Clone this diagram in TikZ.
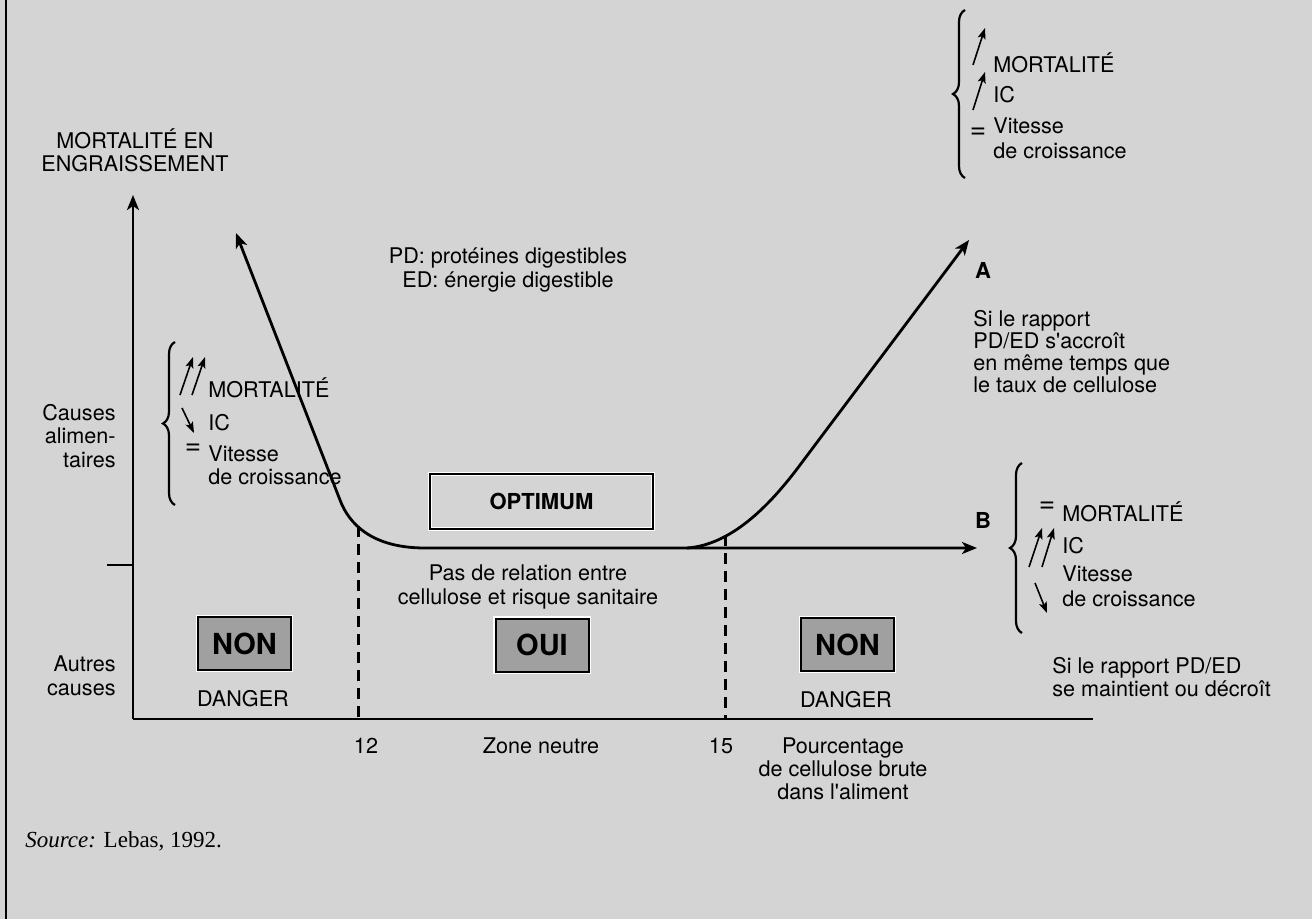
\documentclass[tikz,border=0pt]{standalone}
\usepackage{fontspec}
\setmainfont{TeX Gyre Heros}
\newfontfamily\srcfont{Liberation Serif}
\usetikzlibrary{arrows.meta,decorations.pathreplacing}
\definecolor{bg}{RGB}{212,212,212}
\definecolor{boxgray}{RGB}{160,160,160}
\begin{document}
\begin{tikzpicture}[x=0.5pt,y=-0.5pt,
  txt/.style={inner sep=0pt,font=\fontsize{10.8}{11.6}\selectfont},
  eqs/.style={inner sep=0pt,font=\fontsize{14}{14}\selectfont},
  bold/.style={inner sep=0pt,font=\fontsize{11}{12}\selectfont\bfseries},
  ax/.style={line width=1.4pt},
  bigtip/.style={-{Stealth[length=7.5pt,width=6pt,inset=2pt]}},
  bothtip/.style={{Stealth[length=7.5pt,width=6pt,inset=2pt]}-{Stealth[length=7.5pt,width=6pt,inset=2pt]}},
  smallarr/.style={line width=0.8pt,-{Stealth[length=5.5pt,width=4pt,inset=1.2pt]}},
  dashline/.style={line width=1.5pt,dash pattern=on 5.5pt off 3.5pt},
  bracedec/.style={line width=1.1pt,decorate,decoration={brace,amplitude=6pt}},
  graybox/.style={draw=black,line width=1pt,fill=boxgray,minimum width=46.5pt,minimum height=26.5pt,inner sep=0pt,font=\fontsize{14.5}{15}\selectfont\bfseries,preaction={draw=white,line width=2.4pt}},
  optbox/.style={draw=black,line width=0.9pt,minimum width=111.5pt,minimum height=27.5pt,inner sep=0pt,font=\fontsize{11}{12}\selectfont\bfseries,preaction={draw=white,line width=2.2pt}}
]
\useasboundingbox (0,0) rectangle (1312,919);
\fill[bg] (0,0) rectangle (1312,919);
% frame line
\coordinate (ft) at (6,0);
\coordinate (fb) at (6,919);
\draw[line width=1pt] (ft) -- (fb);

% axes
\coordinate (O) at (133,719);
\coordinate (ytop) at (133,195);
\coordinate (xend) at (1093,719);
\coordinate (tickL) at (107,565);
\coordinate (tickR) at (133,565);
\draw[ax,bigtip] (O) -- (ytop);
\draw[ax] (O) -- (xend);
\draw[ax] (tickL) -- (tickR);

% main curve (left branch + flat B branch)
\coordinate (leftTip) at (236,233);
\coordinate (leftBend) at (340,500);
\coordinate (flatStart) at (425,548);
\coordinate (Bend) at (977,548);
\draw[ax,bothtip] (leftTip) -- (leftBend) .. controls (349,524) and (372,548) .. (flatStart) -- (Bend);

% branch A
\coordinate (Astart) at (687,548);
\coordinate (Abend) at (800,465);
\coordinate (Atip) at (969,240);
\draw[ax,bigtip] (Astart) .. controls (730,545) and (768,508) .. (Abend) -- (Atip);

% dashed lines
\coordinate (d12t) at (358,526);
\coordinate (d12b) at (358,719);
\coordinate (d15t) at (725,535);
\coordinate (d15b) at (725,719);
\draw[dashline] (d12t) -- (d12b);
\draw[dashline] (d15t) -- (d15b);

% axis labels
\node[txt,align=center] (ylab) at (135,150) {MORTALITÉ EN\\ENGRAISSEMENT};
\node[txt,align=right,anchor=east,font=\fontsize{10.8}{11.8}\selectfont] (causesA) at (116,436) {Causes\\alimen-\\taires};
\node[txt,align=right,anchor=east,font=\fontsize{10.8}{11.8}\selectfont] (causesB) at (116,676) {Autres\\causes};
\node[txt] (l12) at (366,746) {12};
\node[txt] (lzone) at (541,746) {Zone neutre};
\node[txt] (l15) at (721,746) {15};
\node[txt,align=center] (lpct) at (843,769) {Pourcentage\\de cellulose brute\\dans l\textquotesingle aliment};

% legend
\node[txt,align=center,font=\fontsize{10.8}{12}\selectfont] (legend) at (508,270) {PD: protéines digestibles\\ED: énergie digestible};

% boxes
\node[optbox] (opt) at (541.5,501.5) {OPTIMUM};
\node[txt,align=center] (pas) at (528,587) {Pas de relation entre\\cellulose et risque sanitaire};
\node[graybox] (non1) at (244.5,643.5) {NON};
\node[graybox] (oui) at (542,645) {OUI};
\node[graybox] (non2) at (847.5,644.5) {NON};
\node[txt] (dang1) at (243,699) {DANGER};
\node[txt] (dang2) at (846,700) {DANGER};

% A and B labels
\node[bold] (labA) at (983,270) {A};
\node[bold] (labB) at (983,520) {B};
\node[txt,align=left,anchor=west,font=\fontsize{10.8}{11}\selectfont] (siA) at (973,352) {Si le rapport\\PD/ED s\textquotesingle accroît\\en même temps que\\le taux de cellulose};
\node[txt,align=left,anchor=west,font=\fontsize{10.8}{11.5}\selectfont] (siB) at (1052,677) {Si le rapport PD/ED\\se maintient ou décroît};

% left brace group
\coordinate (lbB) at (175,505);
\coordinate (lbT) at (175,342);
\draw[bracedec] (lbB) -- (lbT);
\coordinate (la1s) at (180,395); \coordinate (la1e) at (193,357);
\coordinate (la2s) at (192,395); \coordinate (la2e) at (205,357);
\coordinate (la3s) at (182,408); \coordinate (la3e) at (194,433);
\draw[smallarr] (la1s) -- (la1e);
\draw[smallarr] (la2s) -- (la2e);
\draw[smallarr] (la3s) -- (la3e);
\node[eqs] (leq) at (193,449) {=};
\node[txt,anchor=west] (lmort) at (208,388) {MORTALITÉ};
\node[txt,anchor=west] (lic) at (208,423) {IC};
\node[txt,anchor=west,align=left,font=\fontsize{10.8}{11.5}\selectfont] (lvit) at (208,465) {Vitesse\\de croissance};

% top right brace group
\coordinate (tbB) at (965,178);
\coordinate (tbT) at (965,10);
\draw[bracedec] (tbB) -- (tbT);
\coordinate (ta1s) at (973,65); \coordinate (ta1e) at (985,28);
\coordinate (ta2s) at (973,110); \coordinate (ta2e) at (985,72);
\draw[smallarr] (ta1s) -- (ta1e);
\draw[smallarr] (ta2s) -- (ta2e);
\node[eqs] (teq) at (978,133) {=};
\node[txt,anchor=west] (tmort) at (993,63) {MORTALITÉ};
\node[txt,anchor=west] (tic) at (993,95) {IC};
\node[txt,anchor=west,align=left,font=\fontsize{10.8}{12.5}\selectfont] (tvit) at (993,138) {Vitesse\\de croissance};

% B brace group
\coordinate (bbB) at (1022,633);
\coordinate (bbT) at (1022,463);
\draw[bracedec] (bbB) -- (bbT);
\coordinate (ba1s) at (1029,567); \coordinate (ba1e) at (1042,528);
\coordinate (ba2s) at (1042,567); \coordinate (ba2e) at (1054,528);
\coordinate (ba3s) at (1035,583); \coordinate (ba3e) at (1047,613);
\draw[smallarr] (ba1s) -- (ba1e);
\draw[smallarr] (ba2s) -- (ba2e);
\draw[smallarr] (ba3s) -- (ba3e);
\node[eqs] (beq) at (1047,507) {=};
\node[txt,anchor=west] (bmort) at (1062,512) {MORTALITÉ};
\node[txt,anchor=west] (bic) at (1062,546) {IC};
\node[txt,anchor=west,align=left,font=\fontsize{10.8}{12.5}\selectfont] (bvit) at (1062,586) {Vitesse\\de croissance};

% source
\node[inner sep=0pt,anchor=west,font=\srcfont\fontsize{11.5}{12}\selectfont] (src) at (25,841) {\textit{Source:} Lebas, 1992.};
\end{tikzpicture}
\end{document}
